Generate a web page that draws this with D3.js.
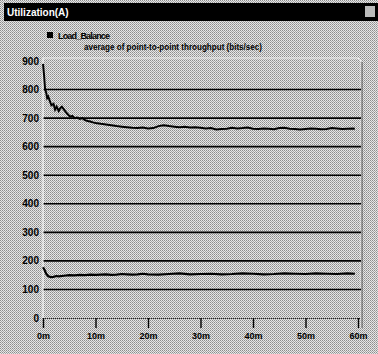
<!DOCTYPE html>
<html>
<head>
<meta charset="utf-8">
<script src="https://cdn.jsdelivr.net/npm/d3@7"></script>
<style>
  body { margin: 0; background: #fff; }
  svg { display: block; font-family: Arial, "Liberation Sans", sans-serif; }
</style>
</head>
<body>
<div id="chart"></div>
<script>
// time in minutes, values in bits/sec
const upperTimes = [0, 0.2, 0.4, 0.6, 0.8, 1.0, 1.3, 1.6, 2.0, 2.3, 2.6, 3.0, 3.3, 3.6, 4.0, 4.4, 4.8, 5.2, 5.6, 6.0,
  6.5, 7.0, 7.5, 8.0, 8.5, 9.0, 9.5, 10, 11, 12, 13, 14, 15, 16, 17, 18, 19, 20, 21, 22, 23, 24, 25, 26, 27, 28, 29,
  30, 31, 32, 33, 34, 35, 36, 37, 38, 39, 40, 41, 42, 43, 44, 45, 46, 47, 48, 49, 50, 51, 52, 53, 54, 55, 56, 57, 58, 59, 59.4]
const upperValues = [890, 850, 800, 790, 770, 775, 760, 745, 750, 730, 740, 725, 735, 740, 730, 720, 712, 705, 708, 700,
  702, 697, 700, 693, 690, 688, 685, 683, 680, 678, 675, 672, 670, 668, 666, 665, 667, 664, 665, 672, 675, 672, 670, 668, 670, 667, 668,
  666, 664, 665, 660, 662, 663, 666, 664, 665, 667, 663, 662, 664, 663, 661, 665, 666, 663, 662, 660, 662, 664, 663, 661, 662, 665, 664, 662, 663, 664, 663]

const lowerTimes = [0, 0.3, 0.6, 1.0, 1.5, 2.0, 2.5, 3, 4, 5, 6, 7, 8, 9, 10, 11, 12, 13, 14, 15, 16, 17, 18, 19, 20,
  22, 24, 26, 28, 30, 32, 34, 36, 38, 40, 42, 44, 46, 48, 50, 52, 54, 56, 58, 59.4]
const lowerValues = [178, 168, 155, 146, 143, 144, 147, 146, 148, 150, 149, 151, 150, 152, 151, 152, 153, 151, 152, 154, 153, 152, 153, 155, 153,
  152, 154, 156, 153, 154, 155, 153, 154, 156, 155, 153, 154, 156, 155, 154, 156, 155, 154, 156, 155]

const yTicks = [0, 100, 200, 300, 400, 500, 600, 700, 800, 900]
const gridValues = [100, 200, 300, 400, 500, 600, 700, 800]
const xTicks = [0, 10, 20, 30, 40, 50, 60]

const titleText = 'Utilization(A)'
const legendName = 'Load_Balance'
const legendStat = 'average of point-to-point throughput (bits/sec)'

const W = 378, H = 354
const plotLeft = 43, plotRight = 361, plotTop = 58, plotBottom = 318

const svg = d3.select('#chart').append('svg')
  .attr('width', W)
  .attr('height', H)

// halftone-ish background
const defs = svg.append('defs')
const pat = defs.append('pattern')
  .attr('id', 'dots')
  .attr('width', 2).attr('height', 2)
  .attr('patternUnits', 'userSpaceOnUse')
pat.append('rect').attr('width', 2).attr('height', 2).attr('fill', '#e6e6e6')
pat.append('rect').attr('width', 1).attr('height', 1).attr('fill', '#8c8c8c')
pat.append('rect').attr('x', 1).attr('y', 1).attr('width', 1).attr('height', 1).attr('fill', '#a8a8a8')

svg.append('rect')
  .attr('x', 0).attr('y', 0)
  .attr('width', W).attr('height', H)
  .attr('fill', 'url(#dots)')

// title bar
svg.append('rect')
  .attr('x', 4).attr('y', 3)
  .attr('width', W - 4).attr('height', 18)
  .attr('fill', '#000')
svg.append('text')
  .attr('x', 7).attr('y', 16)
  .attr('fill', '#fff')
  .attr('font-size', 10)
  .attr('font-weight', 'bold')
  .text(titleText)
svg.append('rect')
  .attr('x', 365).attr('y', 6)
  .attr('width', 10).attr('height', 11)
  .attr('fill', '#bbb')

// legend
svg.append('rect')
  .attr('x', 47).attr('y', 32)
  .attr('width', 6).attr('height', 6)
  .attr('fill', '#000')
svg.append('text')
  .attr('x', 58).attr('y', 39)
  .attr('font-size', 9)
  .attr('font-weight', 'bold')
  .attr('textLength', 52)
  .text(legendName)
svg.append('text')
  .attr('x', 84).attr('y', 50)
  .attr('font-size', 9)
  .attr('font-weight', 'bold')
  .attr('textLength', 178)
  .attr('lengthAdjust', 'spacingAndGlyphs')
  .text(legendStat)

// scales
const x = d3.scaleLinear().domain([0, 60]).range([plotLeft, 358])
const y = d3.scaleLinear().domain([0, 900]).range([plotBottom, 61])

// plot frame (top and right)
svg.append('path')
  .attr('d', `M${plotLeft},${plotTop}H${plotRight - 4}Q${plotRight},${plotTop} ${plotRight},${plotTop + 4}V${plotBottom + 10}`)
  .attr('fill', 'none')
  .attr('stroke', '#eee')
  .attr('stroke-width', 1)
svg.append('line')
  .attr('x1', plotRight + 1).attr('x2', plotRight + 1)
  .attr('y1', plotTop + 4).attr('y2', plotBottom + 10)
  .attr('stroke', '#555')

// grid
svg.append('g')
  .selectAll('line')
  .data(gridValues)
  .join('line')
  .attr('x1', plotLeft).attr('x2', plotRight)
  .attr('y1', d => y(d)).attr('y2', d => y(d))
  .attr('stroke', '#000')
  .attr('stroke-width', 1.6)

// y labels
svg.append('g')
  .selectAll('text')
  .data(yTicks)
  .join('text')
  .attr('x', 39)
  .attr('y', d => y(d) + 3.5)
  .attr('text-anchor', 'end')
  .attr('font-size', 10)
  .attr('font-weight', 'bold')
  .text(d => d)

// x axis
const xAxis = svg.append('g')
  .attr('transform', `translate(0,${plotBottom})`)
  .call(d3.axisBottom(x).tickValues(xTicks).tickSize(10).tickFormat(d => d + 'm'))
xAxis.select('.domain')
  .attr('d', `M${plotLeft},0.5H${plotRight}`)
  .attr('stroke', '#222')
  .attr('stroke-dasharray', '1,1')
xAxis.selectAll('.tick line').attr('stroke', '#000').attr('stroke-width', 1.4)
xAxis.selectAll('.tick text')
  .attr('y', 15)
  .attr('font-size', 9)
  .attr('font-weight', 'bold')
  .attr('font-family', 'Arial, "Liberation Sans", sans-serif')
  .attr('fill', '#000')

// left edge of plot
svg.append('line')
  .attr('x1', plotLeft).attr('x2', plotLeft)
  .attr('y1', plotTop).attr('y2', plotBottom)
  .attr('stroke', '#fff')
  .attr('stroke-width', 1)

// data lines
const line = d3.line()
  .x(d => x(d[0]))
  .y(d => y(d[1]))

const upper = upperTimes.map((t, i) => [t, upperValues[i]])
const lower = lowerTimes.map((t, i) => [t, lowerValues[i]])

svg.append('path')
  .datum(upper)
  .attr('d', line)
  .attr('fill', 'none')
  .attr('stroke', '#000')
  .attr('stroke-width', 2)
svg.append('path')
  .datum(lower)
  .attr('d', line)
  .attr('fill', 'none')
  .attr('stroke', '#000')
  .attr('stroke-width', 2.2)
</script>
</body>
</html>
